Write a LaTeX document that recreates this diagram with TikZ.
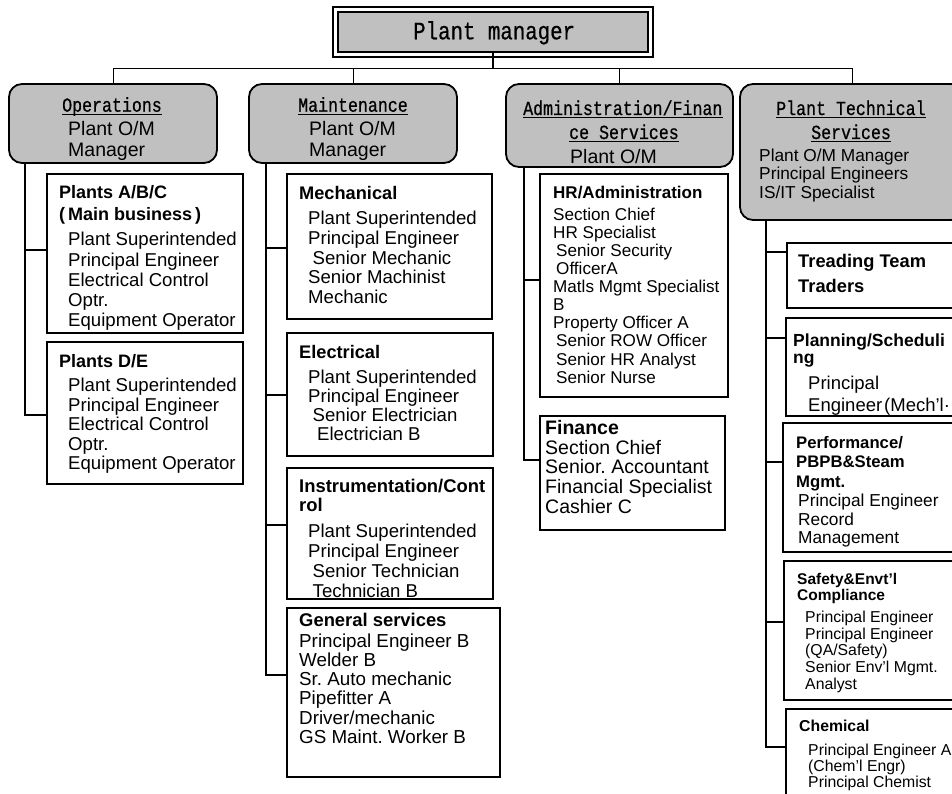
\documentclass[tikz,border=0pt]{standalone}
\usepackage{fontspec}
\setmainfont{Liberation Sans}
\newfontfamily\gothic[FakeStretch=0.83,FakeBold=0.6]{Liberation Mono}
\usepackage{tikz}
\usetikzlibrary{calc}
\definecolor{boxgray}{RGB}{192,192,192}
\frenchspacing
% strut of one em, so that a text block's top lies one em above its first baseline
\newcommand{\boxtop}{\rule{0pt}{1em}}

\tikzset{
  hdr/.style={draw, line width=1.8pt, fill=boxgray, rounded corners=13pt,
    anchor=north west, inner sep=0pt, outer sep=0pt},
  sub/.style={draw, line width=1.8pt, anchor=north west, inner sep=0pt, outer sep=0pt},
  link/.style={line width=1.8pt},
  bus/.style={line width=1pt},
  uline/.style={line width=1.3pt},
  txt/.style 2 args={anchor=north west, inner sep=0pt, align=left,
    font=\fontsize{#1}{#2}\selectfont},
  ttl/.style 2 args={txt={#1}{#2}, font=\fontsize{#1}{#2}\selectfont\bfseries},
  gth/.style={anchor=base west, inner sep=0pt, font=\gothic\fontsize{20}{24}\selectfont},
}

\begin{document}
\begin{tikzpicture}[x=1pt,y=-1pt]
\fill[white] (0,0) rectangle (952,794);
\useasboundingbox (0,0) rectangle (952,794);

% Plant manager box (double frame)
\node[draw, line width=2.4pt, fill=boxgray, anchor=north west, inner sep=0pt, outer sep=0pt,
  minimum width=310pt, minimum height=40pt] (pm) at (338,12) {};
\draw[line width=1.2pt] ([shift={(-5pt,5pt)}]pm.north west) rectangle ([shift={(5pt,-5pt)}]pm.south east);
\node[anchor=base west, inner sep=0pt, font=\gothic\fontsize{25}{30}\selectfont] (pmText) at (413,39.3) {Plant manager};

% Department heads
\node[hdr, minimum width=208pt, minimum height=79pt] (hdrOps) at (9,84) {};
\node[hdr, minimum width=208pt, minimum height=79pt] (hdrMnt) at (249,84) {};
\node[hdr, minimum width=227pt, minimum height=83pt] (hdrAdm) at (506,84) {};
\node[hdr, minimum width=224pt, minimum height=136pt] (hdrPts) at (740,84) {};

% Bus from plant manager to the heads
\coordinate (bus) at (493,69);
\draw[link] (pm.south) -- (bus);
\foreach \h in {hdrOps,hdrMnt,hdrAdm,hdrPts}
  \draw[bus] (bus) -| (\h.north);

% Sections
\node[sub, minimum width=196pt, minimum height=159pt] (abc) at (47,174) {};
\node[sub, minimum width=196pt, minimum height=142pt] (de) at (47,342) {};
\node[sub, minimum width=205pt, minimum height=145pt] (mech) at (287,174) {};
\node[sub, minimum width=206pt, minimum height=123pt] (elec) at (287,333) {};
\node[sub, minimum width=206pt, minimum height=131pt] (inst) at (287,468) {};
\node[sub, minimum width=213pt, minimum height=169pt] (gen) at (287,608) {};
\node[sub, minimum width=188pt, minimum height=223pt] (hr) at (540,174) {};
\node[sub, minimum width=185pt, minimum height=114pt] (fin) at (540,416) {};
\node[sub, minimum width=180pt, minimum height=65pt] (trd) at (787,243) {};
\node[sub, minimum width=180pt, minimum height=98pt] (pln) at (786,318) {};
\node[sub, minimum width=180pt, minimum height=129pt] (prf) at (783,423) {};
\node[sub, minimum width=180pt, minimum height=139pt] (sfy) at (784,561) {};
\node[sub, minimum width=180pt, minimum height=100pt] (chm) at (786,709) {};

% Trunks and stubs
\coordinate (opsTop) at ([xshift=16pt]hdrOps.south west);
\coordinate (mntTop) at ([xshift=17pt]hdrMnt.south west);
\coordinate (admTop) at ([xshift=18pt]hdrAdm.south west);
\coordinate (ptsTop) at ([xshift=26pt]hdrPts.south west);
\foreach \b/\s in {abc/3.5, de/-2}
  \draw[link] (opsTop) |- ([yshift=\s pt]\b.west);
\foreach \b/\s in {mech/-1.5, elec/-0.5, inst/8.5, gen/17.5}
  \draw[link] (mntTop) |- ([yshift=\s pt]\b.west);
\foreach \b/\s in {hr/5.5, fin/13}
  \draw[link] (admTop) |- ([yshift=\s pt]\b.west);
\foreach \b/\s in {trd/23.5, pln/29, prf/25.5, sfy/8.5, chm/12}
  \draw[link] (ptsTop) |- ([yshift=\s pt]\b.west);

% Operations
\node[gth] (opsH) at (62,111.7) {Operations};
\begin{scope}
  \clip ([shift={(2pt,3pt)}]hdrOps.south west) rectangle ([shift={(-2pt,-2pt)}]hdrOps.north east);
  \node[txt={19.5}{20.3}] (opsSub) at (68,116.2) {\boxtop Plant O/M\\Manager};
\end{scope}
\node[ttl={18}{21.7}] (abcT) at (59,180.3) {\boxtop Plants A/B/C\\(\kern3pt Main business\kern3pt)};
\node[txt={18.6}{20.25}] (abcB) at (68,227.1) {\boxtop Plant Superintended\\Principal Engineer\\Electrical Control\\Optr.\\Equipment Operator};
\node[ttl={18}{20}] (deT) at (59,349.3) {\boxtop Plants D/E};
\node[txt={18.6}{19.5}] (deB) at (68,373.1) {\boxtop Plant Superintended\\Principal Engineer\\Electrical Control\\Optr.\\Equipment Operator};

% Maintenance
\node[gth] (mntH) at (298,111.7) {Maintenance};
\begin{scope}
  \clip ([shift={(2pt,3pt)}]hdrMnt.south west) rectangle ([shift={(-2pt,-2pt)}]hdrMnt.north east);
  \node[txt={19.5}{20.3}] (mntSub) at (309,116.2) {\boxtop Plant O/M\\Manager};
\end{scope}
\node[ttl={18.2}{20}] (mechT) at (299,180.8) {\boxtop Mechanical};
\node[txt={18.6}{19.8}] (mechB) at (308,205.7) {\boxtop Plant Superintended\\Principal Engineer\\\hspace*{4.5pt}Senior Mechanic\\Senior Machinist\\Mechanic};
\node[ttl={18.2}{20}] (elecT) at (299,339.8) {\boxtop Electrical};
\node[txt={18.6}{19}] (elecB) at (308,364.4) {\boxtop Plant Superintended\\Principal Engineer\\\hspace*{4.5pt}Senior Electrician\\\hspace*{9pt}Electrician B};
\node[ttl={18.4}{19}] (instT) at (299,473.6) {\boxtop Instrumentation/Cont\\rol};
\node[txt={18.6}{20}] (instB) at (308,518.4) {\boxtop Plant Superintended\\Principal Engineer\\\hspace*{4.5pt}Senior Technician\\\hspace*{4.5pt}Technician B};
\node[ttl={18.4}{20}] (genT) at (299,607.6) {\boxtop General services};
\node[txt={18.8}{19.2}] (genB) at (299,628.2) {\boxtop Principal Engineer B\\Welder B\\Sr. Auto mechanic\\Pipefitter A\\Driver/mechanic\\GS Maint. Worker B};

% Administration/Finance
\node[gth] (admH1) at (523,115) {Administration/Finan};
\node[gth] (admH2) at (569,139) {ce Services};
\begin{scope}
  \clip ([shift={(2pt,3pt)}]hdrAdm.south west) rectangle ([shift={(-2pt,-2pt)}]hdrAdm.north east);
  \node[txt={19.5}{20}] (admSub) at (570,143.5) {\boxtop Plant O/M};
\end{scope}
\node[ttl={17}{18}] (hrT) at (553,181) {\boxtop HR/Administration};
\node[txt={17.1}{18.1}] (hrB) at (553,202.9) {\boxtop Section Chief\\HR Specialist\\\hspace*{3pt}Senior Security\\\hspace*{3pt}OfficerA\\Matls Mgmt Specialist\\B\\Property Officer A\\\hspace*{3pt}Senior ROW Officer\\\hspace*{3pt}Senior HR Analyst\\\hspace*{3pt}Senior Nurse};
\node[ttl={19.5}{19.7}] (finT) at (545,414.5) {\boxtop Finance};
\node[txt={19.5}{19.7}] (finB) at (545,434.5) {\boxtop Section Chief\\Senior. Accountant\\Financial Specialist\\Cashier C};

% Plant Technical Services
\node[gth] (ptsH1) at (776,115) {Plant Technical\ };
\node[gth] (ptsH2) at (811,139) {Services};
\node[txt={17.3}{18.3}] (ptsSub) at (759,144.2) {\boxtop Plant O/M Manager\\Principal Engineers\\IS/IT Specialist};
\node[ttl={18.3}{25}] (trdT) at (798,248.7) {\boxtop Treading Team\\Traders};
\node[ttl={17.5}{17}] (plnT) at (793,329.2) {\boxtop Planning/Scheduli\\ng};
\node[txt={18.5}{22.7}] (plnB) at (808,370.5) {\boxtop Principal\\Engineer\kern2pt(Mech'l·};
\node[ttl={16.7}{19.5}] (prfT) at (796,431.3) {\boxtop Performance/\\PBPB\&Steam\\Mgmt.};
\node[txt={17.3}{18.3}] (prfB) at (798,489.4) {\boxtop Principal Engineer\\Record\\Management};
\node[ttl={15.5}{16.7}] (sfyT) at (797,568.5) {\boxtop Safety\&Envt'l\\Compliance};
\node[txt={15.8}{16.8}] (sfyB) at (805,606.2) {\boxtop Principal Engineer\\Principal Engineer\\(QA/Safety)\\Senior Env'l Mgmt.\\Analyst};
\node[ttl={15.8}{16}] (chmT) at (799,715.9) {\boxtop Chemical};
\node[txt={15.8}{16.3}] (chmB) at (808,739.2) {\boxtop Principal Engineer A\\(Chem'l Engr)\\Principal Chemist};

% Underlined head titles
\foreach \n in {opsH,mntH,admH1,admH2,ptsH1,ptsH2}
  \draw[uline] ([yshift=-2.5pt]\n.base west) -- ([yshift=-2.5pt]\n.base east);
\end{tikzpicture}
\end{document}
